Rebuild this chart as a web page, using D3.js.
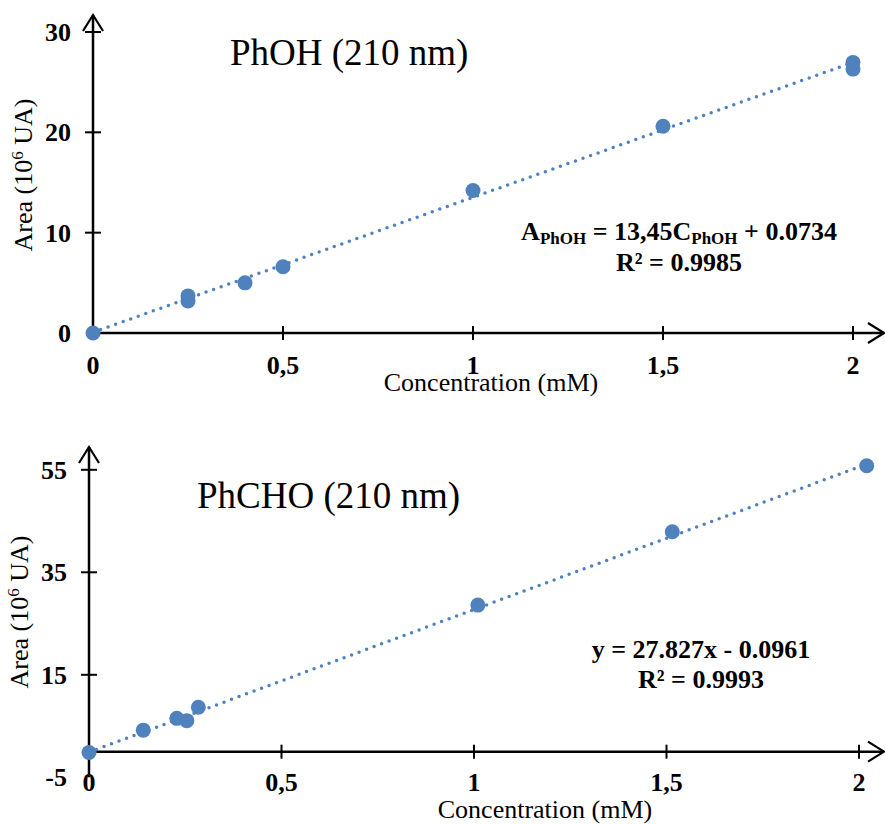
<!DOCTYPE html>
<html>
<head>
<meta charset="utf-8">
<script src="https://cdn.jsdelivr.net/npm/d3@7"></script>
<style>
  html, body { margin: 0; padding: 0; background: #fff; }
  svg { display: block; font-family: "Liberation Serif", "Times New Roman", serif; }
</style>
</head>
<body>
<svg id="chart" width="885" height="824"></svg>
<script>
// ---- Data ----
const phohConc = [0, 0.25, 0.25, 0.4, 0.5, 1, 1.5, 2, 2];
const phohArea = [0, 3.2, 3.7, 5.0, 6.6, 14.2, 20.6, 26.3, 26.97];
const phohSlope = 13.45, phohIntercept = 0.0734;

const phchoConc = [0, 0.141, 0.228, 0.254, 0.284, 1.01, 1.515, 2.02];
const phchoArea = [-0.15, 4.2, 6.5, 6.05, 8.66, 28.6, 42.9, 55.8];
const phchoSlope = 27.827, phchoIntercept = -0.0961;

const xTicks = [0, 0.5, 1, 1.5, 2];
const xTickLabels = ["0", "0,5", "1", "1,5", "2"];
const phohYTicks = [0, 10, 20, 30];
const phchoYTicks = [-5, 15, 35, 55];

const blue = "#4f81bd";
const svg = d3.select("#chart");

function drawPanel(cfg) {
  const x = d3.scaleLinear().domain([0, 2]).range(cfg.xRange);
  const y = d3.scaleLinear().domain(cfg.yDomain).range(cfg.yRange);
  const g = svg.append("g");
  const x0 = x(0), yBase = y(0);
  const yAxisBottom = y(cfg.yDomain[0]);

  // y-axis line with arrow
  g.append("line").attr("x1", x0).attr("x2", x0)
    .attr("y1", yAxisBottom).attr("y2", cfg.yArrowTip)
    .attr("stroke", "#000").attr("stroke-width", 2.5);
  g.append("path")
    .attr("d", `M${x0 - 10},${cfg.yArrowTip + 16} L${x0},${cfg.yArrowTip} L${x0 + 10},${cfg.yArrowTip + 16}`)
    .attr("fill", "none").attr("stroke", "#000").attr("stroke-width", 2.2);

  // x-axis line with arrow
  g.append("line").attr("x1", x0).attr("x2", cfg.xArrowTip)
    .attr("y1", yBase).attr("y2", yBase)
    .attr("stroke", "#000").attr("stroke-width", 2.5);
  g.append("path")
    .attr("d", `M${cfg.xArrowTip - 16},${yBase - 10} L${cfg.xArrowTip},${yBase} L${cfg.xArrowTip - 16},${yBase + 10}`)
    .attr("fill", "none").attr("stroke", "#000").attr("stroke-width", 2.2);

  // y ticks
  cfg.yTicks.forEach(t => {
    if (t !== cfg.yDomain[0]) {
      g.append("line").attr("x1", x0 - 8).attr("x2", x0 + 8)
        .attr("y1", y(t)).attr("y2", y(t))
        .attr("stroke", "#000").attr("stroke-width", 2);
    }
    g.append("text").attr("x", x0 - 22).attr("y", y(t)).attr("dy", "0.35em")
      .attr("text-anchor", "end").attr("font-weight", "bold").attr("font-size", 26)
      .text(t);
  });

  // x ticks
  xTicks.forEach((t, i) => {
    g.append("line").attr("x1", x(t)).attr("x2", x(t))
      .attr("y1", yBase - 7).attr("y2", yBase + 7)
      .attr("stroke", "#000").attr("stroke-width", 2);
    g.append("text").attr("x", x(t)).attr("y", yBase + cfg.xLabelOffset)
      .attr("text-anchor", "middle").attr("font-weight", "bold").attr("font-size", 26)
      .text(xTickLabels[i]);
  });

  // axis titles
  g.append("text").attr("x", cfg.xTitle[0]).attr("y", cfg.xTitle[1])
    .attr("text-anchor", "middle").attr("font-size", 26).text("Concentration (mM)");
  const yl = g.append("text")
    .attr("transform", `translate(${cfg.yTitle[0]},${cfg.yTitle[1]}) rotate(-90)`)
    .attr("text-anchor", "middle").attr("font-size", 26);
  yl.append("tspan").text("Area (10");
  yl.append("tspan").attr("font-size", 17).attr("dy", -9).text("6");
  yl.append("tspan").attr("dy", 9).text(" UA)");

  // chart title
  g.append("text").attr("x", cfg.title[0]).attr("y", cfg.title[1])
    .attr("font-size", 37).text(cfg.titleText);

  // trendline (dotted)
  const xMax = d3.max(cfg.conc);
  const trend = [0, xMax].map(c => [c, cfg.slope * c + cfg.intercept]);
  g.append("path")
    .attr("d", d3.line().x(d => x(d[0])).y(d => y(d[1]))(trend))
    .attr("fill", "none").attr("stroke", blue).attr("stroke-width", 3.5)
    .attr("stroke-linecap", "round").attr("stroke-dasharray", "0 8");

  // points
  g.selectAll("circle.pt").data(cfg.conc.map((c, i) => [c, cfg.area[i]]))
    .enter().append("circle")
    .attr("cx", d => x(d[0])).attr("cy", d => y(d[1])).attr("r", 7.5)
    .attr("fill", blue);

  // equation
  const eq = cfg.eq;
  const t1 = g.append("text").attr("x", eq.x).attr("y", eq.y1)
    .attr("text-anchor", "middle").attr("font-weight", "bold").attr("font-size", 26);
  eq.line1.forEach(p => {
    const s = t1.append("tspan").text(p.t);
    if (p.sub) s.attr("font-size", 17).attr("dy", 4);
    else if (p.after) s.attr("dy", -4);
  });
  g.append("text").attr("x", eq.x).attr("y", eq.y2)
    .attr("text-anchor", "middle").attr("font-weight", "bold").attr("font-size", 26)
    .text(eq.line2);
}

drawPanel({
  xRange: [93, 853], yDomain: [0, 30], yRange: [333, 32],
  yArrowTip: 15, xArrowTip: 884, xLabelOffset: 41,
  yTicks: phohYTicks, conc: phohConc, area: phohArea,
  slope: phohSlope, intercept: phohIntercept,
  xTitle: [491, 391], yTitle: [32, 175],
  title: [230, 65], titleText: "PhOH (210 nm)",
  eq: {
    x: 679, y1: 240, y2: 271,
    line1: [
      {t: "A"}, {t: "PhOH", sub: true}, {t: " = 13,45C", after: true},
      {t: "PhOH", sub: true}, {t: " + 0.0734", after: true}
    ],
    line2: "R² = 0.9985"
  }
});

drawPanel({
  xRange: [89, 859], yDomain: [-5, 55], yRange: [777.3, 469.8],
  yArrowTip: 447, xArrowTip: 884, xLabelOffset: 39,
  yTicks: phchoYTicks, conc: phchoConc, area: phchoArea,
  slope: phchoSlope, intercept: phchoIntercept,
  xTitle: [545, 818], yTitle: [28, 612],
  title: [197, 508], titleText: "PhCHO (210 nm)",
  eq: {
    x: 701, y1: 658, y2: 688,
    line1: [{t: "y = 27.827x - 0.0961"}],
    line2: "R² = 0.9993"
  }
});
</script>
</body>
</html>
